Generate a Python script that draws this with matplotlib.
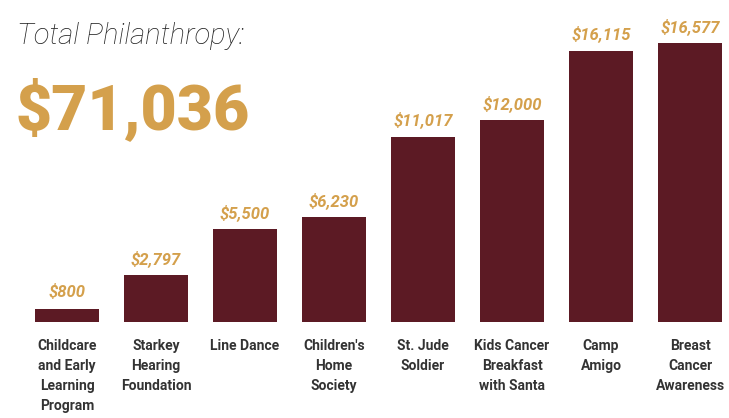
import matplotlib
matplotlib.use("Agg")
import matplotlib.pyplot as plt

# Data
categories = ["Childcare\nand Early\nLearning\nProgram", "Starkey\nHearing\nFoundation",
              "Line Dance", "Children's\nHome\nSociety", "St. Jude\nSoldier",
              "Kids Cancer\nBreakfast\nwith Santa", "Camp\nAmigo", "Breast\nCancer\nAwareness"]
amounts = [800, 2797, 5500, 6230, 11017, 12000, 16115, 16577]
total_label = "$71,036"
title_label = "Total Philanthropy:"

bar_color = "#5c1a24"
gold = "#d4a04c"
text_gray = "#333333"
fam = ["Roboto", "DejaVu Sans"]

fig = plt.figure(figsize=(7.29, 4.18), dpi=100)
W, H = 729, 418
# axes placed so bars land where they sit in the reference
ax = fig.add_axes([22 / W, 1 - 322 / H, (729 - 22) / W, 322 / H])
x = list(range(len(amounts)))
ax.bar(x, amounts, width=0.71, color=bar_color)
ax.set_xlim(-0.506, 7.438)
ax.set_ylim(0, 19130)
ax.axis("off")

for xi, v in zip(x, amounts):
    ax.annotate(f"${v:,}", (xi, v), xytext=(0, 6), textcoords="offset points",
                ha="center", va="bottom", color=gold, fontsize=12,
                fontstyle="italic", fontweight="bold", family=fam)

for xi, lab in zip(x, categories):
    ax.annotate(lab, (xi, 0), xytext=(0, -12), textcoords="offset points",
                ha="center", va="top", color=text_gray, fontsize=10,
                fontweight="bold", family=fam, linespacing=1.55)

fig.text(17 / W, 1 - 36 / H, title_label, fontsize=21, fontstyle="italic",
         fontweight="light", family=fam, color="#222222", va="center", ha="left")
fig.text(15 / W, 1 - 110 / H, total_label, fontsize=45, fontweight="heavy",
         family=fam, color=gold, va="center", ha="left")

fig.savefig("out.png", dpi=100)
